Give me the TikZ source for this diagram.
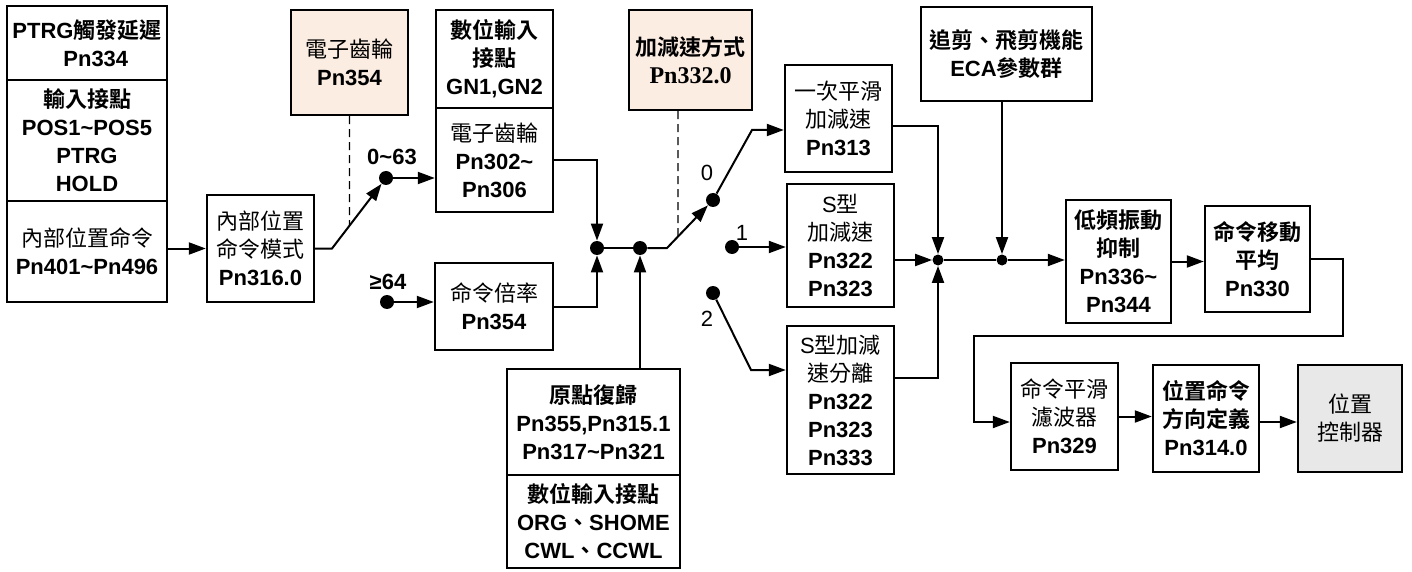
\documentclass[tikz,border=0pt]{standalone}
\usepackage{fontspec}
\setmainfont{Liberation Sans}
\newfontfamily\cjkfont{Noto Sans CJK TC}[BoldFont={Noto Sans CJK TC Bold}]
\newfontfamily\serifbold{Liberation Serif}
\newcommand{\zh}[1]{{\cjkfont #1}}
\usetikzlibrary{arrows.meta, calc}
\definecolor{peach}{RGB}{252,237,226}
\definecolor{ctlgray}{RGB}{232,232,232}

\begin{document}
\begin{tikzpicture}[
  x=0.5pt, y=-0.5pt,
  box/.style={draw, line width=1.2pt, align=center, inner sep=0pt,
              font=\fontsize{11}{14}\selectfont},
  bbox/.style={box, font=\fontsize{11}{14}\selectfont\bfseries},
  arr/.style={-{Triangle[length=8.5pt, width=6pt]}, line width=1pt},
  wire/.style={line width=1pt},
  dashline/.style={line width=0.7pt, dash pattern=on 4pt off 2.5pt},
  dot/.style={circle, fill, inner sep=0pt, minimum size=7pt},
  jdot/.style={circle, fill, inner sep=0pt, minimum size=5.5pt},
  lbl/.style={inner sep=0pt, font=\fontsize{11}{13}\selectfont}
]
\useasboundingbox (0,0) rectangle (1412,572);

% left column
\node[bbox, minimum width=80pt, minimum height=37pt] (trg) at (87,43)
  {PTRG\zh{觸發延遲}\\\hspace*{0.8em}Pn334};
\node[bbox, minimum width=80pt, minimum height=60.5pt] (inpt) at (87,140.5)
  {\zh{輸入接點}\\POS1\textasciitilde POS5\\PTRG\\HOLD};
\node[box, minimum width=80pt, minimum height=50.5pt] (intcmd) at (87,251.5)
  {\zh{內部位置命令}\\\textbf{Pn401\textasciitilde Pn496}};
\node[box, minimum width=53.5pt, minimum height=53.5pt] (mode) at (260.5,248.5)
  {\zh{內部位置}\\\zh{命令模式}\\\textbf{Pn316.0}};

% electronic gear
\node[box, fill=peach, minimum width=58.5pt, minimum height=52.5pt] (gear1) at (349.5,62.5)
  {\zh{電子齒輪}\\\textbf{Pn354}};
\node[bbox, minimum width=58.5pt, minimum height=49pt] (dig) at (494.5,59)
  {\zh{數位輸入}\\\zh{接點}\\GN1,GN2};
\node[box, minimum width=58.5pt, minimum height=52pt] (gear2) at (494.5,160)
  {\zh{電子齒輪}\\\textbf{Pn302\textasciitilde}\\\textbf{Pn306}};
\node[box, minimum width=59pt, minimum height=43.5pt] (ratio) at (494,306.5)
  {\zh{命令倍率}\\\textbf{Pn354}};

% homing
\node[bbox, minimum width=86.5pt, minimum height=53pt] (home) at (593.5,422)
  {\zh{原點復歸}\\Pn355,Pn315.1\\Pn317\textasciitilde Pn321};
\node[bbox, minimum width=86.5pt, minimum height=46.5pt] (homedi) at (593.5,521.5)
  {\zh{數位輸入接點}\\ORG\zh{、}SHOME\\CWL\zh{、}CCWL};

% acceleration
\node[box, fill=peach, minimum width=61.5pt, minimum height=50pt] (accsel) at (690.5,60)
  {\textbf{\zh{加減速方式}}\\{\serifbold\bfseries\fontsize{12}{14}\selectfont Pn332.0}};
\node[box, minimum width=53.5pt, minimum height=53.5pt] (smooth1) at (838.5,118.5)
  {\zh{一次平滑}\\\zh{加減速}\\\textbf{Pn313}};
\node[box, minimum width=53.5pt, minimum height=61.5pt] (scurve) at (840.5,245.5)
  {S\zh{型}\\\zh{加減速}\\\textbf{Pn322}\\\textbf{Pn323}};
\node[box, minimum width=53.5pt, minimum height=74pt] (ssep) at (840.5,400)
  {S\zh{型加減}\\\zh{速分離}\\\textbf{Pn322}\\\textbf{Pn323}\\\textbf{Pn333}};

% right part
\node[bbox, minimum width=85.5pt, minimum height=47pt] (eca) at (1006.5,54)
  {\zh{追剪、飛剪機能}\\ECA\zh{參數群}};
\node[bbox, minimum width=52.5pt, minimum height=61.5pt] (lowvib) at (1118.5,261.5)
  {\zh{低頻振動}\\\zh{抑制}\\Pn336\textasciitilde\\Pn344};
\node[bbox, minimum width=52.5pt, minimum height=53pt] (mavg) at (1257.5,259)
  {\zh{命令移動}\\\zh{平均}\\Pn330};
\node[box, minimum width=53.5pt, minimum height=53.5pt] (filt) at (1064.5,416.5)
  {\zh{命令平滑}\\\zh{濾波器}\\\textbf{Pn329}};
\node[bbox, minimum width=53pt, minimum height=53.5pt] (dir) at (1206,418.5)
  {\zh{位置命令}\\\zh{方向定義}\\Pn314.0};
\node[box, fill=ctlgray, minimum width=52pt, minimum height=53.5pt] (posctl) at (1350,418.5)
  {\zh{位置}\\\zh{控制器}};

% switch contacts and junctions
\node[dot] (d063) at (386,178) {};
\node[dot] (d64) at (387,302) {};
\node[dot] (j1) at (597,248) {};
\node[dot] (j2) at (640,248) {};
\node[dot] (d0) at (713,200) {};
\node[dot] (d1) at (732,247) {};
\node[dot] (d2) at (713,293) {};
\node[jdot] (j3) at (938,260) {};
\node[jdot] (j4) at (1002,260) {};

\node[lbl] (l063) at (392,157) {\textbf{0\textasciitilde 63}};
\node[lbl] (l64) at (388,282) {\textbf{≥64}};
\node[lbl] (l0) at (707,173) {0};
\node[lbl] (l1) at (742,233) {1};
\node[lbl] (l2) at (707,319) {2};

\coordinate (b1) at (332,248.5);
\coordinate (b2) at (667,248);
\coordinate (b3) at (752,130);
\coordinate (b4) at (751,370);
\coordinate (acc0) at ([xshift=-6.25pt]accsel.south);
\coordinate (acc1) at (acc0 |- b2);
\coordinate (ret) at (974,336);

% connectors
\draw[arr] (mode.west -| intcmd.east) -- (mode.west);
\draw[arr] (mode.east) -- (b1) -- (d063);
\draw[dashline] (gear1.south) -- (intersection of gear1.south--gear1.center and b1--d063);
\draw[arr] (d063) -- (d063 -| gear2.west);
\draw[arr] (d64) -- (d64 -| ratio.west);
\draw[arr] (gear2.east) -| (j1);
\draw[arr] (ratio.east) -| (j1);
\draw[wire] (j1) -- (j2);
\draw[arr] (home.north -| j2) -- (j2);
\draw[arr] (j2) -- (b2) -- (d0);
\draw[dashline] (acc0) -- (intersection of acc0--acc1 and b2--d0);
\draw[arr] (d0) -- (b3) -- (b3 -| smooth1.west);
\draw[arr] (d1) -- (d1 -| scurve.west);
\draw[arr] (d2) -- (b4) -- (b4 -| ssep.west);
\draw[arr] ([yshift=-3.75pt]smooth1.east) -| (j3);
\draw[arr] (j3 -| scurve.east) -- (j3);
\draw[arr] ([yshift=11pt]ssep.east) -| (j3);
\draw[wire] (j3) -- (j4);
\draw[arr] (eca.south -| j4) -- (j4);
\draw[arr] (j4) -- (j4 -| lowvib.west);
\draw[arr] (lowvib.east) -- (lowvib.east -| mavg.west);
\draw[arr] (mavg.east) -- ++(32,0) |- (ret) |- ([yshift=-2.75pt]filt.west);
\draw[arr] (filt.east) -- (filt.east -| dir.west);
\draw[arr] ([yshift=-1.75pt]dir.east) -- ([yshift=-1.75pt]dir.east -| posctl.west);
\end{tikzpicture}
\end{document}
